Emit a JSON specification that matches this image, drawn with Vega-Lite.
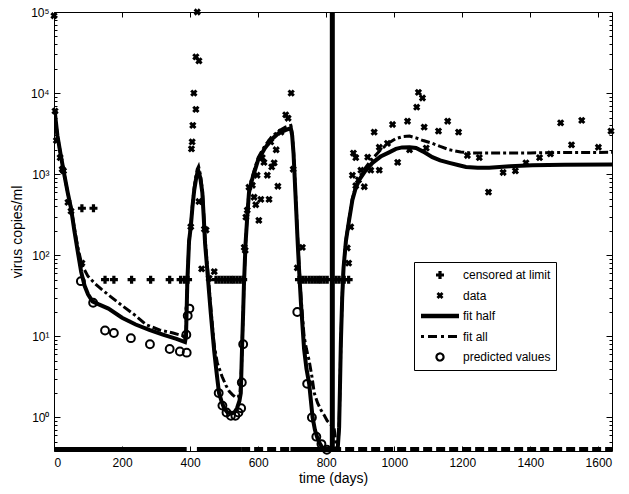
{
  "$schema": "https://vega.github.io/schema/vega-lite/v6.json",
  "autosize": "none",
  "width": 558,
  "height": 439,
  "padding": {"left": 54, "top": 12, "right": 17, "bottom": 43},
  "background": "white",
  "config": {
    "view": {"stroke": "black", "strokeWidth": 1},
    "font": "Liberation Sans",
    "axis": {"labelFont": "Liberation Sans", "labelFontSize": 12, "labelColor": "black", "tickColor": "black", "titleFont": "Liberation Sans", "titleFontSize": 14, "titleFontWeight": "normal", "titleColor": "black", "grid": false, "domain": false},
    "legend": {"labelFont": "Liberation Sans", "labelFontSize": 12, "labelColor": "black"}
  },
  "datasets": {
    "fithalf": [
      {"day":2,"v":6000,"seg":"main","series":"fit half"},{"day":10,"v":3000,"seg":"main","series":"fit half"},{"day":20,"v":1700,"seg":"main","series":"fit half"},{"day":30,"v":1000,"seg":"main","series":"fit half"},{"day":40,"v":600,"seg":"main","series":"fit half"},{"day":50,"v":380,"seg":"main","series":"fit half"},{"day":60,"v":200,"seg":"main","series":"fit half"},{"day":70,"v":110,"seg":"main","series":"fit half"},{"day":80,"v":62,"seg":"main","series":"fit half"},{"day":90,"v":42,"seg":"main","series":"fit half"},{"day":100,"v":33,"seg":"main","series":"fit half"},{"day":113,"v":27,"seg":"main","series":"fit half"},{"day":130,"v":25,"seg":"main","series":"fit half"},{"day":160,"v":22,"seg":"main","series":"fit half"},{"day":200,"v":17,"seg":"main","series":"fit half"},{"day":240,"v":14,"seg":"main","series":"fit half"},{"day":280,"v":12,"seg":"main","series":"fit half"},{"day":320,"v":10.5,"seg":"main","series":"fit half"},{"day":360,"v":9.3,"seg":"main","series":"fit half"},{"day":385,"v":8.5,"seg":"main","series":"fit half"},{"day":388,"v":10,"seg":"main","series":"fit half"},{"day":392,"v":49,"seg":"main","series":"fit half"},{"day":397,"v":150,"seg":"main","series":"fit half"},{"day":402,"v":224,"seg":"main","series":"fit half"},{"day":407,"v":400,"seg":"main","series":"fit half"},{"day":412,"v":630,"seg":"main","series":"fit half"},{"day":417,"v":850,"seg":"main","series":"fit half"},{"day":421,"v":1020,"seg":"main","series":"fit half"},{"day":425,"v":1070,"seg":"main","series":"fit half"},{"day":430,"v":900,"seg":"main","series":"fit half"},{"day":436,"v":590,"seg":"main","series":"fit half"},{"day":440,"v":300,"seg":"main","series":"fit half"},{"day":444,"v":140,"seg":"main","series":"fit half"},{"day":450,"v":70,"seg":"main","series":"fit half"},{"day":456,"v":34,"seg":"main","series":"fit half"},{"day":461,"v":19,"seg":"main","series":"fit half"},{"day":466,"v":11,"seg":"main","series":"fit half"},{"day":471,"v":6.5,"seg":"main","series":"fit half"},{"day":476,"v":4.2,"seg":"main","series":"fit half"},{"day":480,"v":3,"seg":"main","series":"fit half"},{"day":485,"v":2,"seg":"main","series":"fit half"},{"day":492,"v":1.6,"seg":"main","series":"fit half"},{"day":500,"v":1.3,"seg":"main","series":"fit half"},{"day":510,"v":1.15,"seg":"main","series":"fit half"},{"day":520,"v":1.12,"seg":"main","series":"fit half"},{"day":530,"v":1.15,"seg":"main","series":"fit half"},{"day":538,"v":1.3,"seg":"main","series":"fit half"},{"day":545,"v":1.6,"seg":"main","series":"fit half"},{"day":549,"v":2,"seg":"main","series":"fit half"},{"day":551,"v":4,"seg":"main","series":"fit half"},{"day":553,"v":8,"seg":"main","series":"fit half"},{"day":556,"v":20,"seg":"main","series":"fit half"},{"day":558,"v":40,"seg":"main","series":"fit half"},{"day":561,"v":85,"seg":"main","series":"fit half"},{"day":563,"v":140,"seg":"main","series":"fit half"},{"day":568,"v":300,"seg":"main","series":"fit half"},{"day":573,"v":590,"seg":"main","series":"fit half"},{"day":580,"v":800,"seg":"main","series":"fit half"},{"day":590,"v":1100,"seg":"main","series":"fit half"},{"day":600,"v":1500,"seg":"main","series":"fit half"},{"day":620,"v":2100,"seg":"main","series":"fit half"},{"day":640,"v":2700,"seg":"main","series":"fit half"},{"day":660,"v":3200,"seg":"main","series":"fit half"},{"day":680,"v":3500,"seg":"main","series":"fit half"},{"day":696,"v":3700,"seg":"main","series":"fit half"},{"day":700,"v":3000,"seg":"main","series":"fit half"},{"day":704,"v":1800,"seg":"main","series":"fit half"},{"day":708,"v":800,"seg":"main","series":"fit half"},{"day":712,"v":350,"seg":"main","series":"fit half"},{"day":716,"v":150,"seg":"main","series":"fit half"},{"day":720,"v":70,"seg":"main","series":"fit half"},{"day":726,"v":25,"seg":"main","series":"fit half"},{"day":735,"v":7,"seg":"main","series":"fit half"},{"day":742,"v":4,"seg":"main","series":"fit half"},{"day":750,"v":2.6,"seg":"main","series":"fit half"},{"day":760,"v":1.0,"seg":"main","series":"fit half"},{"day":767,"v":0.7,"seg":"main","series":"fit half"},{"day":774,"v":0.56,"seg":"main","series":"fit half"},{"day":781,"v":0.48,"seg":"main","series":"fit half"},{"day":788,"v":0.43,"seg":"main","series":"fit half"},{"day":796,"v":0.4,"seg":"main","series":"fit half"},{"day":803,"v":0.38,"seg":"main","series":"fit half"},{"day":810,"v":0.3,"seg":"main","series":"fit half"},{"day":830,"v":0.3,"seg":"main","series":"fit half"},{"day":834,"v":0.42,"seg":"main","series":"fit half"},{"day":838,"v":0.76,"seg":"main","series":"fit half"},{"day":841,"v":3,"seg":"main","series":"fit half"},{"day":843,"v":8,"seg":"main","series":"fit half"},{"day":847,"v":30,"seg":"main","series":"fit half"},{"day":851,"v":70,"seg":"main","series":"fit half"},{"day":858,"v":150,"seg":"main","series":"fit half"},{"day":866,"v":250,"seg":"main","series":"fit half"},{"day":877,"v":480,"seg":"main","series":"fit half"},{"day":887,"v":680,"seg":"main","series":"fit half"},{"day":897,"v":850,"seg":"main","series":"fit half"},{"day":915,"v":1100,"seg":"main","series":"fit half"},{"day":936,"v":1380,"seg":"main","series":"fit half"},{"day":960,"v":1650,"seg":"main","series":"fit half"},{"day":985,"v":1860,"seg":"main","series":"fit half"},{"day":1005,"v":2050,"seg":"main","series":"fit half"},{"day":1023,"v":2140,"seg":"main","series":"fit half"},{"day":1045,"v":2150,"seg":"main","series":"fit half"},{"day":1064,"v":2100,"seg":"main","series":"fit half"},{"day":1085,"v":1900,"seg":"main","series":"fit half"},{"day":1112,"v":1620,"seg":"main","series":"fit half"},{"day":1135,"v":1480,"seg":"main","series":"fit half"},{"day":1162,"v":1380,"seg":"main","series":"fit half"},{"day":1190,"v":1290,"seg":"main","series":"fit half"},{"day":1211,"v":1230,"seg":"main","series":"fit half"},{"day":1245,"v":1200,"seg":"main","series":"fit half"},{"day":1279,"v":1200,"seg":"main","series":"fit half"},{"day":1340,"v":1250,"seg":"main","series":"fit half"},{"day":1406,"v":1290,"seg":"main","series":"fit half"},{"day":1500,"v":1310,"seg":"main","series":"fit half"},{"day":1640,"v":1320,"seg":"main","series":"fit half"},
      {"day":0,"v":0.41,"seg":"f1","series":"fit half"},{"day":390,"v":0.41,"seg":"f1","series":"fit half"},
      {"day":420,"v":0.41,"seg":"f2","series":"fit half"},{"day":550,"v":0.41,"seg":"f2","series":"fit half"},
      {"day":695,"v":0.41,"seg":"f3","series":"fit half"},{"day":815,"v":0.41,"seg":"f3","series":"fit half"}
    ],
    "fitall": [
      {"day":2,"v":6000,"seg":"main","series":"fit all"},{"day":10,"v":3000,"seg":"main","series":"fit all"},{"day":20,"v":1700,"seg":"main","series":"fit all"},{"day":30,"v":1000,"seg":"main","series":"fit all"},{"day":40,"v":600,"seg":"main","series":"fit all"},{"day":50,"v":390,"seg":"main","series":"fit all"},{"day":60,"v":215,"seg":"main","series":"fit all"},{"day":70,"v":125,"seg":"main","series":"fit all"},{"day":82,"v":76,"seg":"main","series":"fit all"},{"day":100,"v":55,"seg":"main","series":"fit all"},{"day":120,"v":45,"seg":"main","series":"fit all"},{"day":140,"v":38,"seg":"main","series":"fit all"},{"day":162,"v":32,"seg":"main","series":"fit all"},{"day":200,"v":24,"seg":"main","series":"fit all"},{"day":240,"v":18,"seg":"main","series":"fit all"},{"day":270,"v":14,"seg":"main","series":"fit all"},{"day":310,"v":12,"seg":"main","series":"fit all"},{"day":350,"v":11,"seg":"main","series":"fit all"},{"day":385,"v":10,"seg":"main","series":"fit all"},{"day":388,"v":11,"seg":"main","series":"fit all"},{"day":392,"v":50,"seg":"main","series":"fit all"},{"day":397,"v":150,"seg":"main","series":"fit all"},{"day":402,"v":230,"seg":"main","series":"fit all"},{"day":407,"v":420,"seg":"main","series":"fit all"},{"day":412,"v":680,"seg":"main","series":"fit all"},{"day":417,"v":950,"seg":"main","series":"fit all"},{"day":421,"v":1150,"seg":"main","series":"fit all"},{"day":425,"v":1250,"seg":"main","series":"fit all"},{"day":430,"v":1000,"seg":"main","series":"fit all"},{"day":436,"v":650,"seg":"main","series":"fit all"},{"day":440,"v":330,"seg":"main","series":"fit all"},{"day":444,"v":160,"seg":"main","series":"fit all"},{"day":450,"v":80,"seg":"main","series":"fit all"},{"day":456,"v":40,"seg":"main","series":"fit all"},{"day":461,"v":22,"seg":"main","series":"fit all"},{"day":466,"v":13,"seg":"main","series":"fit all"},{"day":470,"v":8.2,"seg":"main","series":"fit all"},{"day":480,"v":4.7,"seg":"main","series":"fit all"},{"day":494,"v":3.2,"seg":"main","series":"fit all"},{"day":505,"v":2.5,"seg":"main","series":"fit all"},{"day":515,"v":2.1,"seg":"main","series":"fit all"},{"day":525,"v":1.9,"seg":"main","series":"fit all"},{"day":535,"v":1.75,"seg":"main","series":"fit all"},{"day":542,"v":1.8,"seg":"main","series":"fit all"},{"day":547,"v":2.1,"seg":"main","series":"fit all"},{"day":551,"v":4,"seg":"main","series":"fit all"},{"day":553,"v":8,"seg":"main","series":"fit all"},{"day":556,"v":20,"seg":"main","series":"fit all"},{"day":558,"v":40,"seg":"main","series":"fit all"},{"day":561,"v":85,"seg":"main","series":"fit all"},{"day":563,"v":140,"seg":"main","series":"fit all"},{"day":568,"v":310,"seg":"main","series":"fit all"},{"day":573,"v":620,"seg":"main","series":"fit all"},{"day":580,"v":850,"seg":"main","series":"fit all"},{"day":590,"v":1180,"seg":"main","series":"fit all"},{"day":600,"v":1600,"seg":"main","series":"fit all"},{"day":620,"v":2250,"seg":"main","series":"fit all"},{"day":640,"v":2900,"seg":"main","series":"fit all"},{"day":660,"v":3400,"seg":"main","series":"fit all"},{"day":680,"v":3800,"seg":"main","series":"fit all"},{"day":696,"v":4000,"seg":"main","series":"fit all"},{"day":700,"v":3200,"seg":"main","series":"fit all"},{"day":704,"v":1900,"seg":"main","series":"fit all"},{"day":708,"v":850,"seg":"main","series":"fit all"},{"day":712,"v":380,"seg":"main","series":"fit all"},{"day":716,"v":170,"seg":"main","series":"fit all"},{"day":720,"v":80,"seg":"main","series":"fit all"},{"day":726,"v":30,"seg":"main","series":"fit all"},{"day":735,"v":10,"seg":"main","series":"fit all"},{"day":742,"v":7,"seg":"main","series":"fit all"},{"day":750,"v":5,"seg":"main","series":"fit all"},{"day":758,"v":3.2,"seg":"main","series":"fit all"},{"day":765,"v":2,"seg":"main","series":"fit all"},{"day":775,"v":1.5,"seg":"main","series":"fit all"},{"day":785,"v":1.23,"seg":"main","series":"fit all"},{"day":795,"v":1.05,"seg":"main","series":"fit all"},{"day":803,"v":0.91,"seg":"main","series":"fit all"},{"day":813,"v":0.82,"seg":"main","series":"fit all"},{"day":823,"v":0.76,"seg":"main","series":"fit all"},{"day":828,"v":0.5,"seg":"main","series":"fit all"},{"day":830,"v":0.3,"seg":"main","series":"fit all"},{"day":834,"v":0.42,"seg":"main","series":"fit all"},{"day":838,"v":0.76,"seg":"main","series":"fit all"},{"day":841,"v":3,"seg":"main","series":"fit all"},{"day":843,"v":8,"seg":"main","series":"fit all"},{"day":847,"v":30,"seg":"main","series":"fit all"},{"day":851,"v":72,"seg":"main","series":"fit all"},{"day":858,"v":155,"seg":"main","series":"fit all"},{"day":866,"v":260,"seg":"main","series":"fit all"},{"day":877,"v":500,"seg":"main","series":"fit all"},{"day":887,"v":720,"seg":"main","series":"fit all"},{"day":897,"v":900,"seg":"main","series":"fit all"},{"day":915,"v":1200,"seg":"main","series":"fit all"},{"day":936,"v":1550,"seg":"main","series":"fit all"},{"day":960,"v":2000,"seg":"main","series":"fit all"},{"day":985,"v":2450,"seg":"main","series":"fit all"},{"day":1005,"v":2750,"seg":"main","series":"fit all"},{"day":1025,"v":2900,"seg":"main","series":"fit all"},{"day":1045,"v":2950,"seg":"main","series":"fit all"},{"day":1064,"v":2800,"seg":"main","series":"fit all"},{"day":1085,"v":2600,"seg":"main","series":"fit all"},{"day":1112,"v":2400,"seg":"main","series":"fit all"},{"day":1135,"v":2200,"seg":"main","series":"fit all"},{"day":1162,"v":2000,"seg":"main","series":"fit all"},{"day":1195,"v":1880,"seg":"main","series":"fit all"},{"day":1230,"v":1820,"seg":"main","series":"fit all"},{"day":1309,"v":1820,"seg":"main","series":"fit all"},{"day":1400,"v":1830,"seg":"main","series":"fit all"},{"day":1500,"v":1850,"seg":"main","series":"fit all"},{"day":1640,"v":1860,"seg":"main","series":"fit all"},
      {"day":550,"v":0.41,"seg":"f4","series":"fit all"},{"day":1640,"v":0.41,"seg":"f4","series":"fit all"}
    ],
    "vline": [{"day":818,"lo":0.386,"hi":100000,"series":"fit half"}],
    "censored": [
      {"day":82,"v":380},{"day":116,"v":380},
      {"day":150,"v":50},{"day":176,"v":50},{"day":228,"v":50},{"day":284,"v":50},{"day":340,"v":50},{"day":372,"v":50},{"day":383,"v":50},{"day":394,"v":50},
      {"day":476,"v":50},{"day":485,"v":50},{"day":494,"v":50},{"day":503,"v":50},{"day":512,"v":50},{"day":521,"v":50},{"day":529,"v":50},{"day":538,"v":50},{"day":547,"v":50},{"day":556,"v":50},
      {"day":720,"v":50},{"day":731,"v":50},{"day":740,"v":50},{"day":750,"v":50},{"day":759,"v":50},{"day":768,"v":50},{"day":777,"v":50},{"day":785,"v":50},{"day":794,"v":50},{"day":803,"v":50},{"day":829,"v":50},{"day":838,"v":50},{"day":853,"v":50},{"day":866,"v":50}
    ],
    "data": [
      {"day":0,"v":90000},{"day":3,"v":6000},{"day":7,"v":2600},{"day":18,"v":1600},{"day":24,"v":1150},{"day":28,"v":1100},{"day":41,"v":450},{"day":50,"v":350},{"day":82,"v":80},
      {"day":402,"v":225},{"day":404,"v":2050},{"day":406,"v":2500},{"day":408,"v":4000},{"day":411,"v":10000},{"day":417,"v":6300},{"day":417,"v":28000},{"day":421,"v":100000},{"day":426,"v":25000},{"day":426,"v":460},{"day":442,"v":210},{"day":447,"v":205},{"day":434,"v":68},{"day":456,"v":52},{"day":471,"v":63},
      {"day":559,"v":125},{"day":562,"v":115},{"day":564,"v":295},{"day":568,"v":360},{"day":573,"v":690},{"day":583,"v":730},{"day":588,"v":520},{"day":593,"v":420},{"day":597,"v":970},{"day":602,"v":270},{"day":608,"v":490},{"day":612,"v":1600},{"day":617,"v":1400},{"day":627,"v":970},{"day":632,"v":490},{"day":637,"v":2500},{"day":640,"v":1230},{"day":647,"v":1380},{"day":653,"v":2000},{"day":658,"v":710},{"day":667,"v":3300},{"day":681,"v":5400},{"day":688,"v":4900},{"day":697,"v":10000},{"day":703,"v":1150},{"day":715,"v":70},{"day":730,"v":125},
      {"day":862,"v":123},{"day":866,"v":80},{"day":872,"v":224},{"day":877,"v":970},{"day":880,"v":1820},{"day":887,"v":1600},{"day":887,"v":720},{"day":895,"v":850},{"day":902,"v":1120},{"day":912,"v":700},{"day":922,"v":1620},{"day":931,"v":1120},{"day":941,"v":3300},{"day":956,"v":1120},{"day":956,"v":2150},{"day":980,"v":2400},{"day":995,"v":4100},{"day":1010,"v":1400},{"day":1039,"v":4500},{"day":1045,"v":2000},{"day":1066,"v":6700},{"day":1071,"v":10200},{"day":1083,"v":8700},{"day":1088,"v":3800},{"day":1094,"v":2100},{"day":1130,"v":3400},{"day":1157,"v":4500},{"day":1189,"v":3300},{"day":1215,"v":1700},{"day":1250,"v":1600},{"day":1277,"v":600},{"day":1320,"v":1050},{"day":1356,"v":1100},{"day":1387,"v":1380},{"day":1427,"v":1600},{"day":1459,"v":1780},{"day":1489,"v":4300},{"day":1521,"v":2300},{"day":1551,"v":4600},{"day":1600,"v":2150},{"day":1637,"v":3400}
    ],
    "predicted": [
      {"day":79,"v":48},{"day":115,"v":26},{"day":150,"v":11.8},{"day":176,"v":11},{"day":226,"v":9.5},{"day":282,"v":8},{"day":340,"v":7},{"day":370,"v":6.5},{"day":390,"v":6.3},{"day":389,"v":10.5},{"day":393,"v":18},{"day":398,"v":22},
      {"day":484,"v":2.0},{"day":495,"v":1.4},{"day":507,"v":1.15},{"day":520,"v":1.05},{"day":533,"v":1.05},{"day":542,"v":1.15},{"day":550,"v":1.3},{"day":552,"v":2.7},{"day":556,"v":8},
      {"day":715,"v":20},{"day":744,"v":2.6},{"day":758,"v":1.0},{"day":771,"v":0.58},{"day":786,"v":0.47},{"day":802,"v":0.4}
    ]
  },
  "layer": [
    {
      "layer": [
        {
          "data": {"name": "fitall"},
          "transform": [{"filter": "datum.seg === 'main'"}],
          "mark": {"type": "line", "clip": true, "strokeWidth": 3, "strokeDash": [9, 3, 3, 3], "interpolate": "linear"},
          "encoding": {
            "x": {"field": "day", "type": "quantitative", "scale": {"domain": [0, 1640], "nice": false, "zero": false},
              "axis": {"orient": "bottom", "title": "time (days)", "format": "d", "values": [0,200,400,600,800,1000,1200,1400,1600], "tickSize": -5, "labelPadding": 11, "titlePadding": 3, "labelOverlap": false}},
            "y": {"field": "v", "type": "quantitative", "scale": {"type": "log", "domain": [0.386, 100000], "nice": false},
              "axis": {"orient": "left", "title": "virus copies/ml", "values": [0.4,0.5,0.6,0.7,0.8,0.9,1,2,3,4,5,6,7,8,9,10,20,30,40,50,60,70,80,90,100,200,300,400,500,600,700,800,900,1000,2000,3000,4000,5000,6000,7000,8000,9000,10000,20000,30000,40000,50000,60000,70000,80000,90000,100000],
                "tickSize": {"condition": {"test": "datum.value == 1 || datum.value == 10 || datum.value == 100 || datum.value == 1000 || datum.value == 10000 || datum.value == 100000", "value": -6}, "value": -3},
                "labelExpr": "datum.value == 1 ? '10⁰' : datum.value == 10 ? '10¹' : datum.value == 100 ? '10²' : datum.value == 1000 ? '10³' : datum.value == 10000 ? '10⁴' : datum.value == 100000 ? '10⁵' : ''",
                "labelPadding": 11, "labelOverlap": false, "titlePadding": 6}},
            "detail": {"field": "seg"},
            "color": {"field": "series", "type": "nominal",
              "scale": {"domain": ["censored at limit", "data", "fit half", "fit all", "predicted values"], "range": ["black", "black", "black", "black", "black"]},
              "legend": {
                "title": null, "orient": "none", "legendX": 360, "legendY": 250,
                "strokeColor": "black", "fillColor": "white", "padding": 5, "cornerRadius": 0,
                "symbolSize": 1444, "clipHeight": 16, "rowPadding": 4.5, "labelOffset": 3, "symbolOffset": 1,
                "labelFont": "Liberation Sans", "labelFontSize": 12,
                "encode": {
                  "symbols": {
                    "update": {
                      "x": {"value": 21},
                      "shape": {"signal": "datum.value === 'censored at limit' || datum.value === 'data' ? 'cross' : datum.value === 'predicted values' ? 'circle' : 'stroke'"},
                      "angle": {"signal": "datum.value === 'data' ? 45 : 0"},
                      "size": {"signal": "datum.value === 'censored at limit' ? 64 : datum.value === 'data' ? 50 : datum.value === 'predicted values' ? 50 : 1444"},
                      "fillOpacity": {"signal": "datum.value === 'censored at limit' || datum.value === 'data' ? 1 : 0"},
                      "strokeWidth": {"signal": "datum.value === 'fit half' ? 4.5 : datum.value === 'fit all' ? 3 : datum.value === 'predicted values' ? 2.2 : 0"},
                      "strokeDash": {"signal": "datum.value === 'fit all' ? [3,4,9,4] : [1,0]"},
                      "opacity": {"value": 1}
                    }
                  },
                  "labels": {
                    "update": {
                      "x": {"value": 44}
                    }
                  }
                }
              }}
          }
        },
        {
          "data": {"name": "fitall"},
          "transform": [{"filter": "datum.seg === 'f4'"}],
          "mark": {"type": "line", "clip": true, "strokeWidth": 4, "strokeDash": [9, 4], "interpolate": "linear"},
          "encoding": {
            "x": {"field": "day", "type": "quantitative"},
            "y": {"field": "v", "type": "quantitative"},
            "color": {"field": "series", "type": "nominal"}
          }
        },
        {
          "data": {"name": "fithalf"},
          "mark": {"type": "line", "clip": true, "strokeWidth": 4, "interpolate": "linear"},
          "encoding": {
            "x": {"field": "day", "type": "quantitative"},
            "y": {"field": "v", "type": "quantitative"},
            "detail": {"field": "seg"},
            "color": {"field": "series", "type": "nominal"}
          }
        },
        {
          "data": {"name": "censored"},
          "mark": {"type": "point", "shape": "cross", "filled": true, "size": 64, "opacity": 1},
          "encoding": {
            "x": {"field": "day", "type": "quantitative"},
            "y": {"field": "v", "type": "quantitative"},
            "color": {"datum": "censored at limit", "type": "nominal"}
          }
        },
        {
          "data": {"name": "data"},
          "mark": {"type": "point", "shape": "cross", "angle": 45, "filled": true, "size": 55, "opacity": 1},
          "encoding": {
            "x": {"field": "day", "type": "quantitative"},
            "y": {"field": "v", "type": "quantitative"},
            "color": {"datum": "data", "type": "nominal"}
          }
        },
        {
          "data": {"name": "predicted"},
          "mark": {"type": "point", "shape": "circle", "filled": false, "size": 62, "strokeWidth": 2, "opacity": 1},
          "encoding": {
            "x": {"field": "day", "type": "quantitative"},
            "y": {"field": "v", "type": "quantitative"},
            "color": {"datum": "predicted values", "type": "nominal"}
          }
        }
      ]
    },
    {
      "data": {"name": "vline"},
      "mark": {"type": "rule", "strokeWidth": 5, "color": "black", "clip": true},
      "encoding": {
        "x": {"field": "day", "type": "quantitative",
          "axis": {"orient": "top", "title": null, "labels": false, "values": [0,200,400,600,800,1000,1200,1400,1600], "tickSize": -5}},
        "y": {"field": "lo", "type": "quantitative",
          "axis": {"orient": "right", "title": null, "labels": false, "values": [0.4,0.5,0.6,0.7,0.8,0.9,1,2,3,4,5,6,7,8,9,10,20,30,40,50,60,70,80,90,100,200,300,400,500,600,700,800,900,1000,2000,3000,4000,5000,6000,7000,8000,9000,10000,20000,30000,40000,50000,60000,70000,80000,90000,100000],
            "tickSize": {"condition": {"test": "datum.value == 1 || datum.value == 10 || datum.value == 100 || datum.value == 1000 || datum.value == 10000 || datum.value == 100000", "value": -6}, "value": -3}}},
        "y2": {"field": "hi"}
      }
    }
  ],
  "resolve": {"axis": {"x": "independent", "y": "independent"}}
}
